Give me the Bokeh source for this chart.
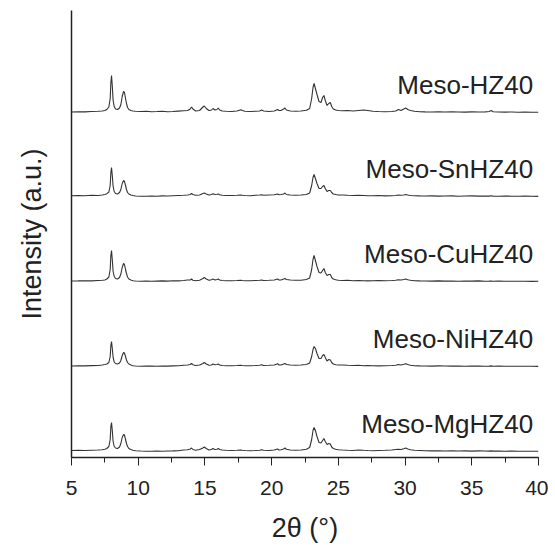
from bokeh.plotting import figure
from bokeh.models import Range1d, SingleIntervalTicker, FixedTicker
from bokeh.embed import file_html
from bokeh.resources import INLINE
from bokeh.core.properties import value

# 2-theta grid (degrees)
two_theta = [
    5.0, 5.5, 6.0, 6.5, 7.0, 7.3, 7.5, 7.65, 7.8,
    7.9, 7.95, 8.0, 8.05, 8.12, 8.2, 8.3, 8.45, 8.6, 8.7,
    8.8, 8.9, 8.97, 9.05, 9.12, 9.2, 9.3, 9.45, 9.6, 9.8,
    10.2, 10.6, 11.0, 11.4, 11.8, 12.2, 12.6, 13.0, 13.4, 13.7,
    13.9, 14.0, 14.1, 14.3, 14.6, 14.85, 14.95, 15.1, 15.3, 15.5, 15.6, 15.75, 15.9, 16.0, 16.1, 16.3, 16.6,
    17.0, 17.4, 17.7, 17.8, 18.0, 18.4, 18.8, 19.1, 19.25, 19.4, 19.8, 20.2, 20.45, 20.55, 20.7, 20.9, 21.0, 21.1, 21.4, 21.8, 22.2, 22.6,
    22.85, 23.0, 23.1, 23.18, 23.28, 23.4, 23.55, 23.7, 23.82, 23.92, 24.02, 24.15, 24.28, 24.4, 24.5, 24.62, 24.8, 25.0,
    25.3, 25.7, 26.1, 26.5, 26.9, 27.2, 27.6, 28.0, 28.5, 29.0, 29.3, 29.5, 29.7, 29.9, 30.05, 30.2, 30.4, 30.7, 31.1,
    31.5, 32.0, 32.5, 33.0, 33.5, 34.0, 34.5, 35.0, 35.5, 36.0, 36.3, 36.45, 36.6, 37.0, 37.5, 38.0, 38.5, 39.0, 39.5, 40.0,
]

meso_hz40 = [
    0.5, 0.8, 0.6, 1.0, 1.2, 1.5, 2.0, 3.0, 5.5,
    14, 30, 37, 28, 12, 6, 3.5, 3, 4.5, 8,
    16, 21, 20, 14, 9, 5, 3, 2, 1.5, 1.2,
    1.0, 1.2, 0.8, 1.0, 1.3, 0.7, 1.0, 1.4, 1.8, 2.0,
    3.5, 5.5, 3.5, 1.5, 2.0, 5.5, 6.5, 4, 2, 2.5, 4, 2.5, 3, 4.5, 2.5, 1.5, 1.2,
    1.0, 1.5, 2.8, 2.0, 1.2, 1.0, 1.3, 1.5, 2.5, 1.5, 1.0, 1.5, 3.0, 2.0, 2.0, 3.5, 4.5, 2.5, 1.5, 1.2, 1.5, 2.2,
    4, 14, 25, 29, 24, 18, 11, 10, 15, 17, 12, 7, 9, 10, 6, 3.5, 2.5, 2.0,
    1.8, 2.0, 1.5, 2.0, 2.5, 2.0, 1.3, 1.0, 0.8, 1.0, 1.5, 3.0, 2.0, 3.5, 4.5, 3.0, 2.0, 1.2, 0.8,
    0.6, 0.5, 0.6, 0.5, 0.7, 0.5, 0.4, 0.6, 0.5, 0.6, 1.0, 2.0, 0.8, 0.5, 0.4, 0.5, 0.3, 0.4, 0.3, 0.2,
]

meso_snhz40 = [
    0.8, 1.0, 0.7, 1.2, 1.0, 1.5, 2.0, 2.8, 4.5,
    11, 24, 29, 22, 10, 5, 3, 2.5, 4, 7,
    13, 16, 15, 11, 7, 4, 2.5, 1.5, 1.0, 0.5,
    0.3, 0.2, 0.4, 0.3, 0.6, 0.5, 0.8, 1.0, 1.2, 1.5,
    2.0, 3.0, 2.0, 1.2, 1.5, 3.0, 3.5, 2.5, 1.5, 2.0, 2.8, 2.0, 2.2, 2.5, 1.8, 1.2, 1.0,
    1.0, 1.2, 1.5, 1.2, 1.0, 0.8, 1.2, 1.5, 1.8, 1.2, 1.5, 1.8, 2.5, 1.8, 2.0, 2.5, 3.5, 2.0, 1.5, 1.2, 1.5, 2.0,
    3.5, 11, 19, 22, 18, 13, 8, 8, 10, 11, 8, 5, 6, 6, 4, 2.5, 2.0, 1.5,
    1.5, 1.2, 1.0, 1.2, 1.0, 0.8, 0.8, 1.0, 0.6, 0.8, 1.0, 1.5, 1.2, 1.5, 2.0, 1.5, 1.0, 0.8, 0.6,
    0.5, 0.6, 0.4, 0.5, 0.6, 0.3, 0.5, 0.6, 0.4, 0.5, 0.4, 0.8, 0.4, 0.3, 0.5, 0.3, 0.2, 0.4, 0.2, 0.1,
]

meso_cuhz40 = [
    0.5, 0.6, 0.8, 0.6, 1.0, 1.2, 1.5, 2.5, 4.5,
    12, 26, 31, 23, 10, 5, 3, 2.5, 4, 7.5,
    14, 18, 17, 12, 8, 4.5, 2.5, 1.5, 0.8, 0.5,
    0.3, 0.5, 0.2, 0.4, 0.6, 0.4, 0.8, 0.6, 1.0, 1.5,
    1.5, 2.5, 1.2, 0.8, 1.2, 3.0, 4.0, 2.5, 1.2, 1.8, 2.5, 1.5, 2.0, 2.5, 1.5, 1.0, 0.8,
    0.8, 1.0, 1.2, 1.0, 0.8, 0.7, 1.0, 1.2, 1.5, 1.0, 1.2, 1.5, 2.5, 1.5, 1.5, 2.5, 3.0, 2.0, 1.5, 1.2, 1.2, 2.0,
    3.5, 12, 22, 26, 21, 15, 9, 8.5, 11, 13, 9, 6, 7, 7, 4, 2.5, 1.8, 1.2,
    1.0, 1.2, 0.8, 1.0, 0.8, 0.6, 0.8, 1.0, 0.8, 1.0, 1.2, 1.8, 1.5, 2.0, 2.5, 1.8, 1.2, 0.8, 0.6,
    0.5, 0.4, 0.6, 0.4, 0.5, 0.3, 0.5, 0.4, 0.6, 0.3, 0.4, 0.5, 0.3, 0.4, 0.2, 0.3, 0.2, 0.3, 0.1, 0.2,
]

meso_nihz40 = [
    0.5, 0.7, 0.6, 0.9, 1.0, 1.5, 2.0, 2.5, 4.0,
    10, 21, 25, 19, 9, 4.5, 3, 2.5, 3.5, 6,
    11, 14, 13.5, 10, 6.5, 4, 2.5, 1.5, 0.8, 0.5,
    0.3, 0.5, 0.4, 0.3, 0.5, 0.4, 0.6, 0.8, 1.2, 1.5,
    2.0, 3.0, 1.8, 1.0, 1.5, 3.0, 4.0, 2.5, 1.2, 1.5, 2.5, 1.8, 2.0, 2.5, 1.5, 1.0, 0.8,
    0.8, 1.0, 1.2, 1.0, 0.7, 0.8, 1.0, 1.2, 1.8, 1.0, 1.2, 1.5, 2.8, 1.5, 1.5, 2.5, 3.0, 2.0, 1.5, 1.2, 1.5, 2.0,
    3.5, 10, 17, 20, 18, 13, 8, 8, 11, 12, 9, 5.5, 7, 6.5, 4, 2.5, 1.8, 1.5,
    1.5, 1.2, 1.0, 1.2, 0.8, 1.0, 0.8, 0.6, 0.8, 1.0, 1.2, 2.0, 1.5, 2.2, 2.8, 2.0, 1.2, 0.8, 0.6,
    0.5, 0.4, 0.6, 0.5, 0.4, 0.5, 0.3, 0.4, 0.5, 0.3, 0.4, 0.6, 0.3, 0.4, 0.2, 0.3, 0.3, 0.2, 0.2, 0.1,
]

meso_mghz40 = [
    1.0, 1.2, 1.0, 1.3, 1.5, 1.8, 2.2, 3.0, 5.0,
    12, 25, 29, 22, 10, 5, 3.5, 3, 4.5, 8,
    14, 17, 16.5, 12, 8, 5, 3, 2, 1.2, 0.8,
    0.5, 0.3, 0.2, 0.4, 0.3, 0.5, 0.6, 0.8, 1.5, 1.8,
    2.5, 3.5, 2.0, 1.2, 2.0, 3.5, 4.5, 3.0, 1.5, 2.0, 3.0, 2.0, 2.2, 3.0, 2.0, 1.5, 1.2,
    1.0, 1.2, 1.5, 1.2, 1.0, 0.8, 1.0, 1.2, 1.8, 1.2, 1.0, 1.5, 2.5, 1.5, 1.8, 2.5, 3.5, 2.2, 1.5, 1.2, 1.5, 2.2,
    4, 12, 21, 24, 21, 15, 9, 8.5, 11, 13, 10, 7, 8, 7.5, 4.5, 3.0, 2.2, 1.8,
    1.5, 1.2, 1.0, 1.5, 1.2, 1.0, 0.8, 1.0, 1.2, 1.5, 2.0, 2.2, 2.0, 2.8, 3.5, 2.5, 1.8, 1.2, 1.0,
    0.8, 0.6, 0.8, 0.5, 0.7, 0.5, 0.6, 0.4, 0.6, 0.5, 0.4, 0.6, 0.4, 0.5, 0.3, 0.4, 0.3, 0.3, 0.2, 0.2,
]

sample_names = ["Meso-MgHZ40", "Meso-NiHZ40", "Meso-CuHZ40", "Meso-SnHZ40", "Meso-HZ40"]
sample_series = [meso_mghz40, meso_nihz40, meso_cuhz40, meso_snhz40, meso_hz40]
offsets = [6, 91, 176, 261, 345]

FONT = "Liberation Sans"
INK = "#222222"

p = figure(width=548, height=548, output_backend="svg", toolbar_location=None,
           x_range=Range1d(5, 40), y_range=Range1d(0, 447),
           min_border_left=71, min_border_right=10, min_border_top=10, min_border_bottom=91)
p.outline_line_color = None
p.xgrid.visible = False
p.ygrid.visible = False
p.background_fill_color = "white"
p.border_fill_color = "white"

for ys, off in zip(sample_series, offsets):
    p.line(two_theta, [v + off for v in ys], line_color="#333333", line_width=1.1)

p.text(x=[39.6] * len(sample_names), y=[o + 28 for o in offsets], text=sample_names,
       text_align="right", text_baseline="alphabetic",
       text_font=value(FONT), text_font_size="26px", text_color=INK)

xa = p.xaxis[0]
xa.ticker = SingleIntervalTicker(interval=5, num_minor_ticks=2)
xa.axis_line_color = INK
xa.axis_line_width = 1.5
xa.major_tick_line_color = INK
xa.minor_tick_line_color = INK
xa.major_tick_in = 0
xa.major_tick_out = 8
xa.minor_tick_in = 0
xa.minor_tick_out = 5
xa.major_label_text_font = FONT
xa.major_label_text_font_size = "21px"
xa.major_label_text_color = INK
xa.major_label_standoff = 15
xa.axis_label = "2θ (°)"
xa.axis_label_text_font = FONT
xa.axis_label_text_font_size = "27px"
xa.axis_label_text_font_style = "normal"
xa.axis_label_text_color = INK
xa.axis_label_standoff = 15

ya = p.yaxis[0]
ya.ticker = FixedTicker(ticks=[])
ya.axis_line_color = INK
ya.axis_line_width = 1.5
ya.major_tick_in = 0
ya.major_tick_out = 0
ya.minor_tick_in = 0
ya.minor_tick_out = 0
ya.major_label_standoff = 0
ya.axis_label = "Intensity (a.u.)"
ya.axis_label_text_font = FONT
ya.axis_label_text_font_size = "27px"
ya.axis_label_text_font_style = "normal"
ya.axis_label_text_color = INK
ya.axis_label_standoff = 25

open("out.html", "w").write(file_html(p, INLINE))
